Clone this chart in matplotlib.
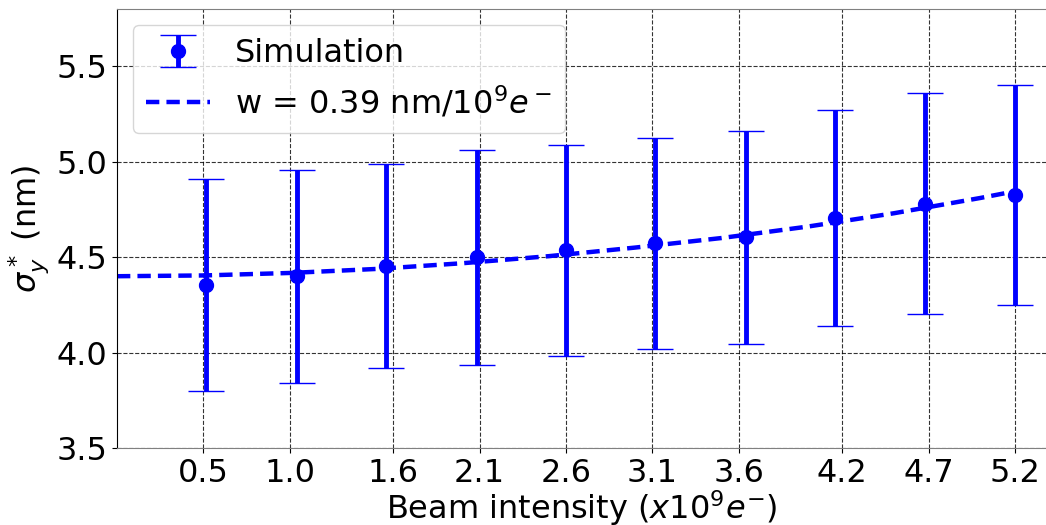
import numpy as np
import matplotlib
matplotlib.use('Agg')
import matplotlib.pyplot as plt

# intensidades simuladas (x10^9 e-) y tamaño vertical del haz
intensity = [0.517, 1.044, 1.559, 2.086, 2.60, 3.117, 3.64, 4.157, 4.678, 5.20]
sigma_y = [4.354, 4.40, 4.454, 4.50, 4.535, 4.573, 4.603, 4.705, 4.78, 4.824]
sigma_err = [0.557, 0.557, 0.536, 0.563, 0.555, 0.553, 0.557, 0.567, 0.578, 0.577]

# curva del ajuste
fit_x = [0.0, 0.5, 1.0, 1.5, 2.0, 2.5, 3.0, 3.5, 4.0, 4.5, 5.0, 5.2]
fit_y = [4.400, 4.404, 4.417, 4.438, 4.468, 4.505, 4.550, 4.600, 4.660, 4.730, 4.810, 4.845]

tick_pos = [0.5, 1.0, 1.6, 2.1, 2.6, 3.1, 3.6, 4.2, 4.7, 5.2]
tick_lab = ['0.5', '1.0', '1.6', '2.1', '2.6', '3.1', '3.6', '4.2', '4.7', '5.2']

fig = plt.figure(figsize=(10.46, 5.25), dpi=100)
ax = fig.add_axes([117 / 1046, 1 - 448 / 525, 1 - 117 / 1046, (448 - 9) / 525])

line, = ax.plot(fit_x, fit_y, '--', color='blue', lw=3.2, dashes=(3, 1.6))
eb = ax.errorbar(intensity, sigma_y, yerr=sigma_err, fmt='o', color='blue',
                 markersize=10, elinewidth=3.5, capsize=13, capthick=1)

ax.set_xlim(0, 5.38)
ax.set_ylim(3.5, 5.8)
ax.set_xticks(tick_pos)
ax.set_xticklabels(tick_lab)
ax.set_yticks([3.5, 4.0, 4.5, 5.0, 5.5])
ax.tick_params(labelsize=23)
ax.grid(True, color='k', linestyle='--', linewidth=0.8, alpha=0.8)
ax.spines['right'].set_visible(False)
for s in ['top', 'bottom']:
    ax.spines[s].set_color('#808080')

ax.set_xlabel(r'Beam intensity ($x10^9e^{-}$)', fontsize=23, labelpad=0)
ax.set_ylabel(r'$\sigma^*_y$ (nm)', fontsize=23)

ax.legend([eb, line], ['Simulation', r'w = 0.39 nm/$10^9e^-$'],
          loc='upper left', fontsize=23)

fig.savefig('out.png', dpi=100)
